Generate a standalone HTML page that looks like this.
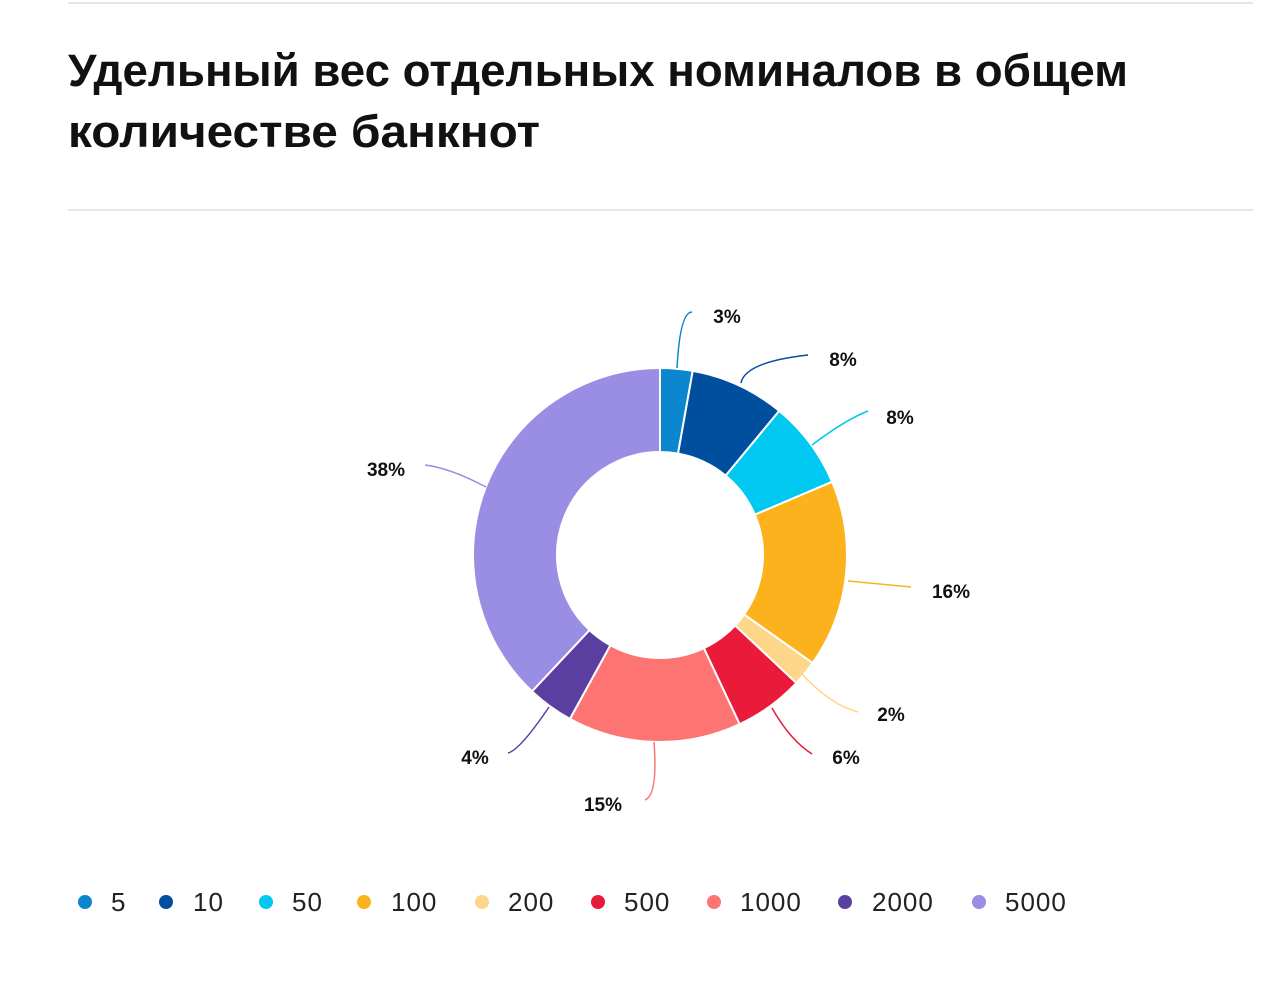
<!DOCTYPE html>
<html><head><meta charset="utf-8"><style>
html,body{margin:0;padding:0;background:#fff;}
svg{display:block;font-family:"Liberation Sans",sans-serif;}
</style></head><body>
<svg id="s" width="1280" height="985" viewBox="0 0 1280 985" xmlns="http://www.w3.org/2000/svg">
<line x1="68" y1="3" x2="1253" y2="3" stroke="#e6e6e6" stroke-width="2"/>
<text x="68" y="86" font-size="45" font-weight="bold" fill="#111" textLength="1060" lengthAdjust="spacingAndGlyphs">Удельный вес отдельных номиналов в общем</text>
<text x="68" y="147" font-size="45" font-weight="bold" fill="#111" textLength="472" lengthAdjust="spacingAndGlyphs">количестве банкнот</text>
<line x1="68" y1="210" x2="1253" y2="210" stroke="#e6e6e6" stroke-width="2"/>
<g id="pie"></g>
<g fill="none" stroke-width="1.5">
<path d="M677 368 Q680 312 692 312" stroke="#0a86cf"/>
<path d="M741 383 Q745 362 808 355" stroke="#004f9f"/>
<path d="M812 445 Q845 420 868 411" stroke="#00c8f0"/>
<path d="M848 581 Q880 584 911 587" stroke="#fbb21c"/>
<path d="M800 672 Q830 705 858 712" stroke="#fdd68a"/>
<path d="M772 708 Q790 740 812 754" stroke="#ea1a3a"/>
<path d="M654 742 Q658 795 645 800" stroke="#fe7473"/>
<path d="M549 707 Q520 750 508 753" stroke="#5b3fa0"/>
<path d="M486 487 Q450 468 425 465" stroke="#9a8de4"/>
</g>
<g font-size="19" font-weight="bold" fill="#111" text-anchor="middle">
<text x="727" y="323">3%</text>
<text x="843" y="366">8%</text>
<text x="900" y="424">8%</text>
<text x="951" y="598">16%</text>
<text x="891" y="721">2%</text>
<text x="846" y="764">6%</text>
<text x="603" y="811">15%</text>
<text x="475" y="764">4%</text>
<text x="386" y="476">38%</text>
</g>
<g font-size="26" fill="#222" letter-spacing="1">
<circle cx="85" cy="902" r="7" fill="#0a86cf"/><text x="111" y="911">5</text>
<circle cx="166" cy="902" r="7" fill="#004f9f"/><text x="193" y="911">10</text>
<circle cx="266" cy="902" r="7" fill="#00c8f0"/><text x="292" y="911">50</text>
<circle cx="364" cy="902" r="7" fill="#fbb21c"/><text x="391" y="911">100</text>
<circle cx="482" cy="902" r="7" fill="#fdd68a"/><text x="508" y="911">200</text>
<circle cx="598" cy="902" r="7" fill="#ea1a3a"/><text x="624" y="911">500</text>
<circle cx="714" cy="902" r="7" fill="#fe7473"/><text x="740" y="911">1000</text>
<circle cx="845" cy="902" r="7" fill="#5b3fa0"/><text x="872" y="911">2000</text>
<circle cx="979" cy="902" r="7" fill="#9a8de4"/><text x="1005" y="911">5000</text>
</g>
</svg>
<script>
var v=[[2.8,"#0a86cf"],[8.2,"#004f9f"],[7.6,"#00c8f0"],[16.2,"#fbb21c"],[2.2,"#fdd68a"],[6,"#ea1a3a"],[15,"#fe7473"],[4,"#5b3fa0"],[38,"#9a8de4"]];
var cx=660,cy=555,R=187,r=103,a=0,h="";
function p(rad,ang){var t=ang/100*2*Math.PI;return [cx+rad*Math.sin(t),cy-rad*Math.cos(t)];}
v.forEach(function(s){var b=a+s[0];var l=s[0]>50?1:0;var A=p(R,a),B=p(R,b),C=p(r,b),D=p(r,a);
h+='<path d="M'+A+' A'+R+' '+R+' 0 '+l+' 1 '+B+' L'+C+' A'+r+' '+r+' 0 '+l+' 0 '+D+'Z" fill="'+s[1]+'" stroke="#fff" stroke-width="2"/>';a=b;});
document.getElementById("pie").innerHTML=h;
</script>
</body></html>
